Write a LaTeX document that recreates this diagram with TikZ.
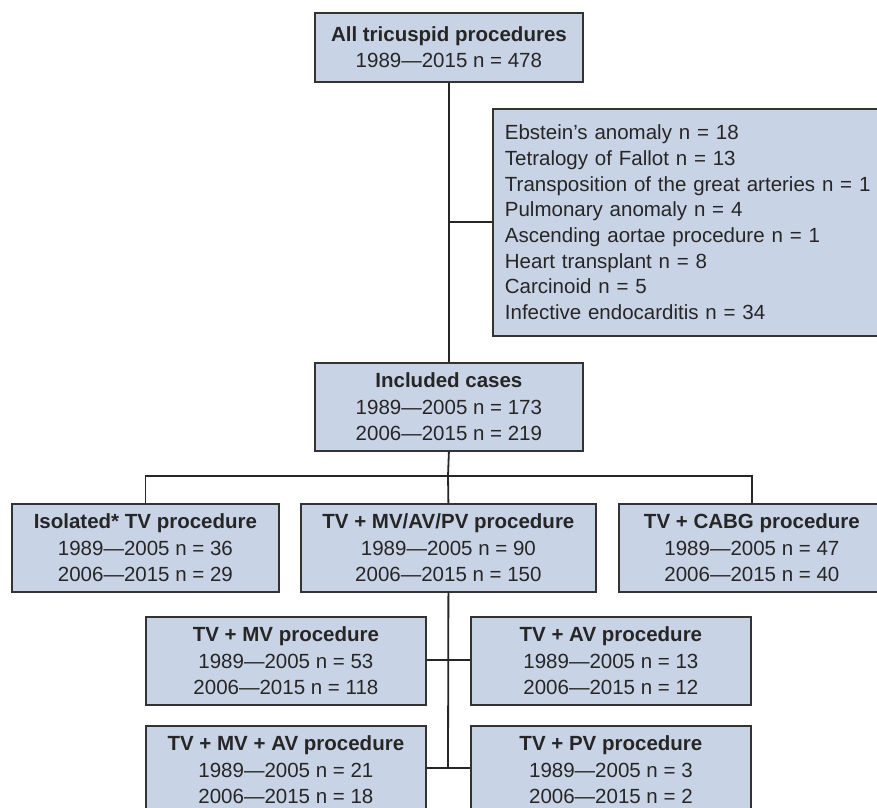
\documentclass[tikz,border=0pt]{standalone}
\usepackage{fontspec}
\setmainfont{Liberation Sans}
\definecolor{boxfill}{HTML}{C9D3E6}
\definecolor{boxline}{HTML}{333333}
\tikzset{
  fbox/.style={draw=boxline, line width=1.8pt, fill=boxfill, inner sep=0pt, anchor=north west,
    align=center, font=\fontsize{20.5}{26.3}\selectfont, text=black!85},
  conn/.style={draw=black!85, line width=1.8pt},
}
\begin{document}
\begin{tikzpicture}[x=1pt,y=-1pt]
\useasboundingbox (0,0) rectangle (877,807);
\fill[white] (0,0) rectangle (877,807);
\clip (0,0) rectangle (877,807);
% boxes
\node[fbox, minimum width=268pt, minimum height=69pt] (top) at (314,12)
  {\textbf{All tricuspid procedures}\\1989—2015 n = 478};
\node[fbox, minimum width=398pt, minimum height=227pt, text width=374pt, align=left,
  font=\fontsize{20.5}{25.7}\selectfont] (excl) at (492,108)
  {Ebstein’s anomaly n = 18\\Tetralogy of Fallot n = 13\\Transposition of the great arteries n = 1\\Pulmonary anomaly n = 4\\Ascending aortae procedure n = 1\\Heart transplant n = 8\\Carcinoid n = 5\\Infective endocarditis n = 34};
\node[fbox, minimum width=268pt, minimum height=88pt] (incl) at (314,362)
  {\textbf{Included cases}\\1989—2005 n = 173\\2006—2015 n = 219};
\node[fbox, minimum width=267pt, minimum height=88pt] (iso) at (11,503)
  {\textbf{Isolated* TV procedure}\\1989—2005 n = 36\\2006—2015 n = 29};
\node[fbox, minimum width=295pt, minimum height=88pt] (mid) at (300,503)
  {\textbf{TV + MV/AV/PV procedure}\\1989—2005 n = 90\\2006—2015 n = 150};
\node[fbox, minimum width=266pt, minimum height=88pt] (cabg) at (618,503)
  {\textbf{TV + CABG procedure}\\1989—2005 n = 47\\2006—2015 n = 40};
\node[fbox, minimum width=280pt, minimum height=88pt] (tvmv) at (145,616)
  {\textbf{TV + MV procedure}\\1989—2005 n = 53\\2006—2015 n = 118};
\node[fbox, minimum width=280pt, minimum height=88pt] (tvav) at (470,616)
  {\textbf{TV + AV procedure}\\1989—2005 n = 13\\2006—2015 n = 12};
\node[fbox, minimum width=280pt, minimum height=88pt] (tvmvav) at (145,725)
  {\textbf{TV + MV + AV procedure}\\1989—2005 n = 21\\2006—2015 n = 18};
\node[fbox, minimum width=280pt, minimum height=88pt] (tvpv) at (470,725)
  {\textbf{TV + PV procedure}\\1989—2005 n = 3\\2006—2015 n = 2};
% connectors
\coordinate (j1) at (448,222);
\coordinate (j2) at (448,476);
\coordinate (j3) at (448,660);
\coordinate (j4) at (448,768);
\draw[conn] (top.south) -- (incl.north);
\draw[conn] (j1) -- (j1 -| excl.west);
\draw[conn] (incl.south) -- (j2);
\draw[conn] (iso.north) |- (j2) -| (cabg.north);
\draw[conn] (j2) -- (mid.north);
\draw[conn] (mid.south) -- (j4);
\draw[conn] (tvmv.east |- j3) -- (tvav.west |- j3);
\draw[conn] (tvmvav.east |- j4) -- (tvpv.west |- j4);
\end{tikzpicture}
\end{document}
